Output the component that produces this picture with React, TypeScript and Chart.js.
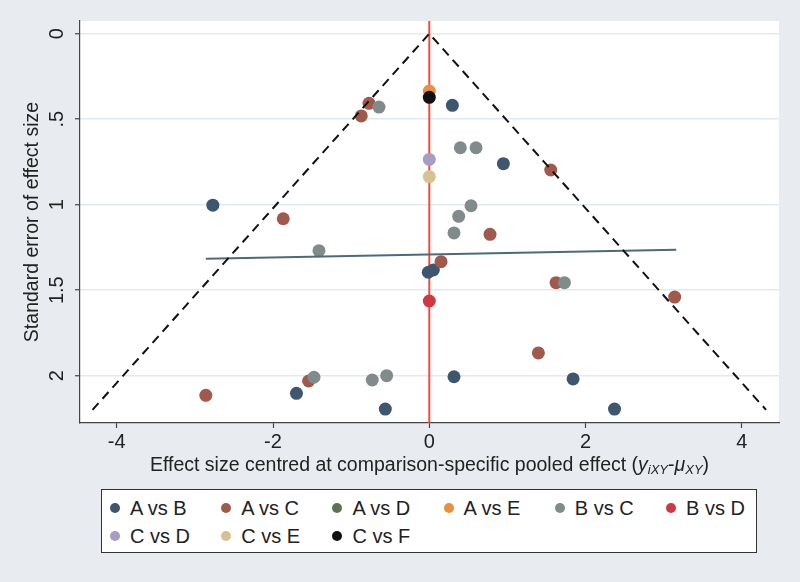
import React, { useEffect, useRef } from 'react';
import { Chart, registerables } from 'chart.js';

Chart.register(...registerables);

const FONT = '"Liberation Sans", Arial, Helvetica, sans-serif';

// Series names and colours
const seriesNames = ['A vs B', 'A vs C', 'A vs D', 'A vs E', 'B vs C', 'B vs D', 'C vs D', 'C vs E', 'C vs F'];
const seriesColors = ['#3e566e', '#a0594b', '#5f7150', '#e8913a', '#7f8c8b', '#cd3843', '#a89cc0', '#d6c290', '#111111'];

// Effect size (x) and standard error (y) per comparison
const abX = [-2.77, 0.295, 0.948, -0.013, 0.051, 0.316, 1.84, 2.37, -1.70, -0.563];
const abY = [1.003, 0.419, 0.760, 1.395, 1.382, 2.006, 2.019, 2.195, 2.103, 2.195];
const acX = [-0.772, -0.871, 1.554, -1.869, 0.777, 0.150, 1.622, 3.14, 1.396, -1.544, -2.86];
const acY = [0.407, 0.481, 0.797, 1.082, 1.173, 1.333, 1.456, 1.540, 1.867, 2.031, 2.115];
const adX: number[] = [];
const adY: number[] = [];
const aeX = [0];
const aeY = [0.335];
const bcX = [-0.644, 0.397, 0.598, 0.534, 0.376, 0.316, -1.412, 1.729, -1.476, -0.730, -0.546];
const bcY = [0.429, 0.667, 0.667, 1.006, 1.068, 1.165, 1.269, 1.456, 2.009, 2.025, 2.000];
const bdX = [0];
const bdY = [1.563];
const cdX = [0];
const cdY = [0.735];
const ceX = [0];
const ceY = [0.836];
const cfX = [0];
const cfY = [0.372];

const seriesX = [abX, acX, adX, aeX, bcX, bdX, cdX, ceX, cfX];
const seriesY = [abY, acY, adY, aeY, bcY, bdY, cdY, ceY, cfY];

// Funnel (pseudo 95% limits) and regression line
const funnelX = [-4.31, 0, 4.31];
const funnelY = [2.2, 0, 2.2];
const regX = [-2.86, 3.16];
const regY = [1.316, 1.263];

// Axes
const xMin = -4.47;
const xMax = 4.475;
const yMin = -0.0743;
const yMax = 2.2766;
const xTickValues = [-4, -2, 0, 2, 4];
const xTickLabels = ['-4', '-2', '0', '2', '4'];
const yTickValues = [0, 0.5, 1, 1.5, 2];
const yTickLabels = ['0', '.5', '1', '1.5', '2'];
const zeroLineX = [0, 0];
const zeroLineY = [yMin, yMax];

const yTitle = 'Standard error of effect size';
const xTitleMain = 'Effect size centred at comparison-specific pooled effect (';

const toPts = (xs: number[], ys: number[]) => xs.map((x, i) => ({ x, y: ys[i] }));

export default function App() {
  const ref = useRef<HTMLCanvasElement | null>(null);

  useEffect(() => {
    const canvas = ref.current;
    if (!canvas) return;

    const bgPlugin = {
      id: 'bg',
      beforeDraw(chart: any) {
        const { ctx, chartArea } = chart;
        ctx.save();
        ctx.fillStyle = '#e8ecf0';
        ctx.fillRect(0, 0, chart.width, chart.height);
        ctx.fillStyle = '#ffffff';
        ctx.fillRect(chartArea.left, chartArea.top, chartArea.right - chartArea.left, chartArea.bottom - chartArea.top);
        ctx.restore();
      },
    };

    const textPlugin = {
      id: 'texts',
      afterDraw(chart: any) {
        const { ctx, chartArea } = chart;
        const ys = chart.scales.y;
        const xs = chart.scales.x;
        ctx.save();
        ctx.fillStyle = '#222222';
        // y tick labels, rotated
        ctx.font = `20px ${FONT}`;
        ctx.textAlign = 'center';
        ctx.textBaseline = 'middle';
        yTickValues.forEach((v, i) => {
          const py = ys.getPixelForValue(v);
          ctx.save();
          ctx.translate(chartArea.left - 23, py);
          ctx.rotate(-Math.PI / 2);
          ctx.fillText(yTickLabels[i], 0, 0);
          ctx.restore();
        });
        // y title
        ctx.save();
        ctx.font = `19.5px ${FONT}`;
        ctx.translate(chartArea.left - 47, (chartArea.top + chartArea.bottom) / 2);
        ctx.rotate(-Math.PI / 2);
        ctx.fillText(yTitle, 0, 0);
        ctx.restore();

        // x title with subscripts
        const parts: { t: string; f: string; dy: number }[] = [
          { t: xTitleMain, f: `19.5px ${FONT}`, dy: 0 },
          { t: 'y', f: `italic 19.5px ${FONT}`, dy: 0 },
          { t: 'iXY', f: `italic 13px ${FONT}`, dy: 4 },
          { t: '-', f: `19.5px ${FONT}`, dy: 0 },
          { t: 'μ', f: `italic 19.5px ${FONT}`, dy: 0 },
          { t: 'XY', f: `italic 13px ${FONT}`, dy: 4 },
          { t: ')', f: `19.5px ${FONT}`, dy: 0 },
        ];
        let total = 0;
        const widths = parts.map((p) => {
          ctx.font = p.f;
          const w = ctx.measureText(p.t).width;
          total += w;
          return w;
        });
        const cx = (xs.left + xs.right) / 2;
        let px = cx - total / 2;
        ctx.textAlign = 'left';
        ctx.textBaseline = 'middle';
        parts.forEach((p, i) => {
          ctx.font = p.f;
          ctx.fillText(p.t, px, 466 + p.dy);
          px += widths[i];
        });
        ctx.restore();
      },
    };

    const pointSets = seriesNames.map((name, i) => ({
      label: name,
      data: toPts(seriesX[i], seriesY[i]),
      backgroundColor: seriesColors[i],
      borderColor: seriesColors[i],
      borderWidth: 0,
      pointRadius: 6.5,
      showLine: false,
      order: 20 - i,
    }));

    const chart = new Chart(canvas, {
      type: 'scatter',
      data: {
        datasets: [
          {
            label: 'funnel',
            data: toPts(funnelX, funnelY),
            showLine: true,
            borderColor: '#111111',
            borderWidth: 2,
            borderDash: [9, 6],
            pointRadius: 0,
            fill: false,
            order: 0,
          },
          {
            label: 'regression',
            data: toPts(regX, regY),
            showLine: true,
            borderColor: '#4a6b77',
            borderWidth: 2,
            pointRadius: 0,
            fill: false,
            order: 1,
          },
          ...pointSets,
          {
            label: 'zero',
            data: toPts(zeroLineX, zeroLineY),
            showLine: true,
            borderColor: '#ef4d3c',
            borderWidth: 2,
            pointRadius: 0,
            fill: false,
            order: 40,
          },
        ] as any,
      },
      options: {
        animation: false,
        responsive: false,
        maintainAspectRatio: false,
        layout: { padding: { left: 0, right: 21, top: 21, bottom: 0 } },
        plugins: {
          legend: { display: false },
          tooltip: { enabled: false },
          title: { display: false },
        },
        scales: {
          x: {
            type: 'linear',
            min: xMin,
            max: xMax,
            afterBuildTicks: (s: any) => {
              s.ticks = xTickValues.map((v) => ({ value: v }));
            },
            afterFit: (s: any) => {
              s.height = 159;
            },
            ticks: {
              callback: (v: any) => {
                const i = xTickValues.indexOf(Number(v));
                return i >= 0 ? xTickLabels[i] : '';
              },
              font: { size: 20, family: FONT },
              color: '#222222',
              padding: 2,
              maxRotation: 0,
              minRotation: 0,
            },
            grid: {
              display: true,
              drawOnChartArea: false,
              drawTicks: true,
              tickLength: 5,
              tickColor: '#444444',
              tickWidth: 1.2,
            },
            border: { display: true, color: '#444444', width: 1.2 },
          },
          y: {
            type: 'linear',
            reverse: true,
            min: yMin,
            max: yMax,
            afterBuildTicks: (s: any) => {
              s.ticks = yTickValues.map((v) => ({ value: v }));
            },
            afterFit: (s: any) => {
              s.width = 80;
            },
            ticks: { display: false },
            grid: {
              display: true,
              drawOnChartArea: true,
              drawTicks: true,
              tickLength: 5,
              color: '#e2e9f0',
              lineWidth: 1.5,
              tickColor: '#444444',
              tickWidth: 1.2,
            },
            border: { display: true, color: '#444444', width: 1.2 },
          },
        },
      } as any,
      plugins: [bgPlugin, textPlugin],
    });

    return () => chart.destroy();
  }, []);

  const colW = 111.2;
  return (
    <div
      style={{
        position: 'absolute',
        left: 0,
        top: 0,
        width: 800,
        height: 582,
        background: '#e8ecf0',
        fontFamily: FONT,
        overflow: 'hidden',
      }}
    >
      <canvas ref={ref} width={800} height={582} style={{ position: 'absolute', left: 0, top: 0, width: 800, height: 582 }} />
      <div
        style={{
          position: 'absolute',
          left: 101,
          top: 489,
          width: 656,
          height: 64,
          boxSizing: 'border-box',
          border: '1.5px solid #333333',
          background: '#ffffff',
        }}
      >
        {seriesNames.map((name, i) => {
          const col = i % 6;
          const row = Math.floor(i / 6);
          const cx = 13 + col * colW;
          const cy = 18 + row * 28;
          return (
            <React.Fragment key={name}>
              <div
                style={{
                  position: 'absolute',
                  left: cx - 5,
                  top: cy - 5,
                  width: 10,
                  height: 10,
                  borderRadius: '50%',
                  background: seriesColors[i],
                }}
              />
              <div
                style={{
                  position: 'absolute',
                  left: cx + 15,
                  top: cy - 12,
                  height: 24,
                  lineHeight: '24px',
                  fontSize: 20,
                  color: '#222222',
                  whiteSpace: 'nowrap',
                }}
              >
                {name}
              </div>
            </React.Fragment>
          );
        })}
      </div>
    </div>
  );
}
